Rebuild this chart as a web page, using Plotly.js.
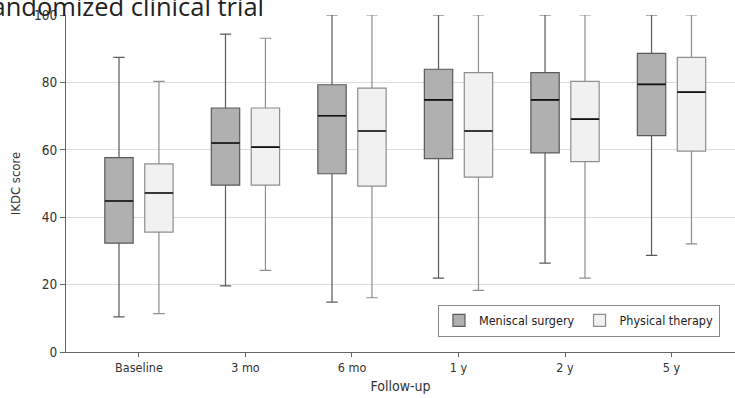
<!DOCTYPE html>
<html>
<head>
<meta charset="utf-8">
<script src="https://cdn.plot.ly/plotly-3.0.1.min.js"></script>
<style>html,body{margin:0;padding:0;background:#fff;}#chart{width:735px;height:398px;}</style>
</head>
<body>
<div id="chart"></div>
<script>
var categories = ["Baseline", "3 mo", "6 mo", "1 y", "2 y", "5 y"];

var surgeryLower  = [10.4, 19.6, 14.8, 21.9, 26.4, 28.7];
var surgeryQ1     = [32.3, 49.5, 52.9, 57.4, 59.1, 64.2];
var surgeryMedian = [44.8, 62.0, 70.1, 74.8, 74.8, 79.4];
var surgeryQ3     = [57.7, 72.4, 79.3, 83.9, 82.9, 88.6];
var surgeryUpper  = [87.4, 94.3, 100, 100, 100, 100];

var ptLower  = [11.4, 24.2, 16.1, 18.3, 21.9, 32.1];
var ptQ1     = [35.6, 49.5, 49.2, 51.9, 56.5, 59.6];
var ptMedian = [47.2, 60.8, 65.6, 65.6, 69.1, 77.1];
var ptQ3     = [55.8, 72.4, 78.3, 82.9, 80.3, 87.4];
var ptUpper  = [80.3, 93.1, 100, 100, 100, 100];

var FONT = '"Liberation Sans Narrow", "DejaVu Sans Condensed", "Roboto Condensed", sans-serif';

function mainBox(name, q1, med, q3, lo, hi, fill, line, grp) {
  return {
    type: 'box', name: name, x: categories,
    q1: q1, median: med, q3: q3, lowerfence: lo, upperfence: hi,
    fillcolor: fill, line: {color: line, width: 1.2},
    whiskerwidth: 0.4, boxpoints: false, hoverinfo: 'skip',
    offsetgroup: grp
  };
}
function medianBox(med, grp) {
  return {
    type: 'box', x: categories, showlegend: false,
    q1: med, median: med, q3: med, lowerfence: med, upperfence: med,
    fillcolor: 'rgba(0,0,0,0)', line: {color: '#111', width: 1.6},
    whiskerwidth: 0, boxpoints: false, hoverinfo: 'skip',
    offsetgroup: grp
  };
}

var data = [
  mainBox('Meniscal surgery', surgeryQ1, surgeryMedian, surgeryQ3, surgeryLower, surgeryUpper, '#b0b0b0', '#5a5a5a', 'S'),
  mainBox('Physical therapy', ptQ1, ptMedian, ptQ3, ptLower, ptUpper, '#f1f1f1', '#8e8e8e', 'P'),
  medianBox(surgeryMedian, 'S'),
  medianBox(ptMedian, 'P')
];

var layout = {
  width: 735, height: 398,
  margin: {l: 66, r: 0, t: 15, b: 46},
  paper_bgcolor: '#fff', plot_bgcolor: '#fff',
  font: {family: FONT, size: 12, color: '#333'},
  boxmode: 'group', boxgap: 0.25, boxgroupgap: 0.29,
  title: {
    text: 'Randomized clinical trial',
    font: {family: '"Open Sans", "DejaVu Sans", sans-serif', size: 25.5, color: '#222'},
    x: 264/735, xanchor: 'right', xref: 'container',
    y: 0.982, yanchor: 'middle', yref: 'container'
  },
  xaxis: {
    type: 'category', range: [-0.685, 5.596],
    showgrid: false, zeroline: false,
    showline: true, linecolor: '#666', linewidth: 1,
    ticks: 'outside', ticklen: 4, tickcolor: '#666',
    tickfont: {family: FONT, size: 12.5, color: '#333'},
    title: {text: 'Follow-up', font: {family: FONT, size: 14, color: '#333'}, standoff: 7}
  },
  yaxis: {
    range: [0, 100], tickvals: [0, 20, 40, 60, 80, 100],
    showgrid: true, gridcolor: '#dcdcdc', gridwidth: 1,
    zeroline: false, showline: true, linecolor: '#666', linewidth: 1,
    ticks: 'outside', ticklen: 5, tickcolor: '#666',
    tickfont: {family: FONT, size: 13.5, color: '#333'},
    title: {text: 'IKDC score', font: {family: FONT, size: 13, color: '#333'}, standoff: 10}
  },
  showlegend: true,
  legend: {
    orientation: 'h', x: 0.556, xanchor: 'left', y: 0.045, yanchor: 'bottom',
    bgcolor: '#fff', bordercolor: '#888', borderwidth: 1,
    font: {family: FONT, size: 12.5, color: '#222'},
    itemwidth: 30, traceorder: 'normal'
  }
};

Plotly.newPlot('chart', data, layout, {displayModeBar: false, staticPlot: true});
</script>
</body>
</html>
